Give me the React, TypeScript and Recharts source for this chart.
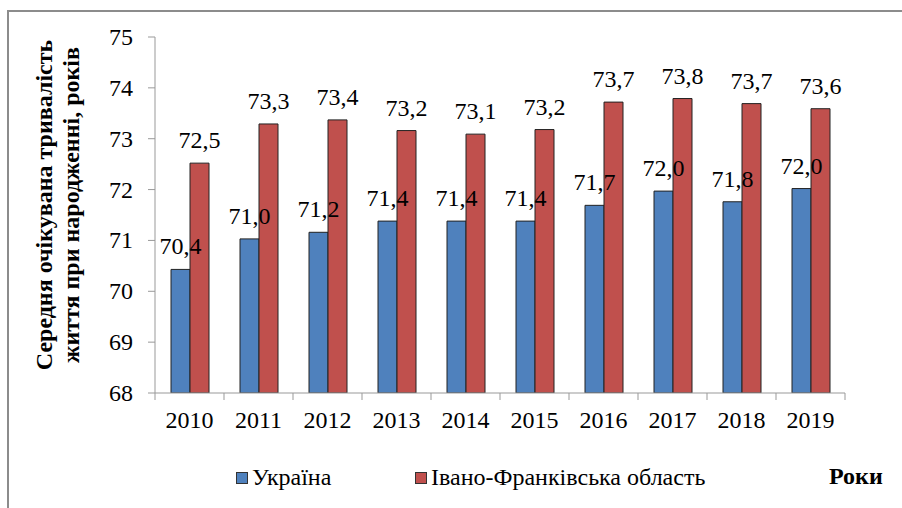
import React from 'react';
import { BarChart, Bar, XAxis, YAxis, LabelList } from 'recharts';

const years = ['2010', '2011', '2012', '2013', '2014', '2015', '2016', '2017', '2018', '2019'];
const ukraine = [70.43, 71.03, 71.16, 71.38, 71.38, 71.38, 71.69, 71.97, 71.76, 72.02];
const ivanoFrankivsk = [72.52, 73.29, 73.37, 73.16, 73.09, 73.18, 73.72, 73.79, 73.69, 73.59];
const yTicks = [68, 69, 70, 71, 72, 73, 74, 75];
const seriesNames = ['Україна', 'Івано-Франківська область'];
const colors = ['#4F81BD', '#C0504D'];

const data = years.map((y, i) => ({ year: y, ua: ukraine[i], iv: ivanoFrankivsk[i] }));

const FONT = '"Liberation Serif", "Times New Roman", serif';
const FS = 24;

const fmt = (v: number) => v.toFixed(1).replace('.', ',');

const CHART_W = 902;
const CHART_H = 508;
const MARGIN = { top: 37, right: 57, bottom: 85, left: 0 };
const Y_W = 155;
const BAND = (CHART_W - MARGIN.left - MARGIN.right - Y_W) / years.length;

const XTick = (props: any) => {
  const { x, y, payload, index } = props;
  const left = x - BAND / 2;
  const right = x + BAND / 2;
  return (
    <g>
      <line x1={left} y1={y - 8} x2={left} y2={y - 1} stroke="#999" strokeWidth={1} />
      {index === years.length - 1 && (
        <line x1={right} y1={y - 8} x2={right} y2={y - 1} stroke="#999" strokeWidth={1} />
      )}
      <text x={x} y={y + 27} textAnchor="middle" style={{ fontFamily: FONT, fontSize: FS, fill: '#000' }}>
        {payload.value}
      </text>
    </g>
  );
};

const YTick = (props: any) => {
  const { x, y, payload } = props;
  return (
    <text x={x} y={y + 8} textAnchor="end" style={{ fontFamily: FONT, fontSize: FS, fill: '#000' }}>
      {payload.value}
    </text>
  );
};

const YLabel = () => (
  <g>
    <text
      transform="translate(52,205) rotate(-90)"
      textAnchor="middle"
      style={{ fontFamily: FONT, fontSize: 24, fontWeight: 'bold', fill: '#000' }}
    >
      Середня очікувана тривалість
    </text>
    <text
      transform="translate(79,205) rotate(-90)"
      textAnchor="middle"
      style={{ fontFamily: FONT, fontSize: 24, fontWeight: 'bold', fill: '#000' }}
    >
      життя при народженні, років
    </text>
  </g>
);

const ValueLabel = (props: any) => {
  const { x, y, width, value } = props;
  return (
    <text x={x + width / 2} y={y - 15} textAnchor="middle" style={{ fontFamily: FONT, fontSize: FS, fill: '#000' }}>
      {fmt(Number(value))}
    </text>
  );
};

export default function App() {
  return (
    <div style={{ position: 'absolute', left: 0, top: 0, width: CHART_W, height: CHART_H, background: '#fff', overflow: 'hidden' }}>
      <div
        style={{
          position: 'absolute',
          left: 7,
          top: 10,
          width: CHART_W,
          height: CHART_H,
          borderLeft: '2px solid #8c8c8c',
          borderTop: '2px solid #8c8c8c',
        }}
      />
      <div style={{ position: 'absolute', left: 0, top: 0 }}>
        <BarChart width={CHART_W} height={CHART_H} data={data} margin={MARGIN} barSize={19} barGap={0}>
          <XAxis
            dataKey="year"
            tick={<XTick />}
            tickLine={false}
            axisLine={{ stroke: '#999' }}
            interval={0}
          />
          <YAxis
            domain={[68, 75]}
            ticks={yTicks}
            width={Y_W}
            axisLine={{ stroke: '#999' }}
            tickLine={{ stroke: '#999' }}
            tickSize={7}
            tickMargin={15}
            tick={<YTick />}
            allowDataOverflow
            label={<YLabel />}
          />
          <Bar dataKey="ua" name={seriesNames[0]} fill={colors[0]} stroke="#222" strokeWidth={1} isAnimationActive={false}>
            <LabelList dataKey="ua" content={<ValueLabel />} />
          </Bar>
          <Bar dataKey="iv" name={seriesNames[1]} fill={colors[1]} stroke="#222" strokeWidth={1} isAnimationActive={false}>
            <LabelList dataKey="iv" content={<ValueLabel />} />
          </Bar>
        </BarChart>
      </div>
      <div style={{ position: 'absolute', left: 0, top: 462, width: CHART_W, height: 30, fontFamily: FONT, fontSize: FS }}>
        <div style={{ position: 'absolute', left: 236, top: 10, width: 10, height: 10, background: colors[0], border: '1px solid #333' }} />
        <div style={{ position: 'absolute', left: 252, top: 0, lineHeight: '30px' }}>{seriesNames[0]}</div>
        <div style={{ position: 'absolute', left: 415, top: 10, width: 10, height: 10, background: colors[1], border: '1px solid #333' }} />
        <div style={{ position: 'absolute', left: 431, top: 0, lineHeight: '30px' }}>{seriesNames[1]}</div>
        <div style={{ position: 'absolute', left: 829, top: -1, lineHeight: '30px', fontWeight: 'bold', fontSize: 24 }}>Роки</div>
      </div>
    </div>
  );
}
